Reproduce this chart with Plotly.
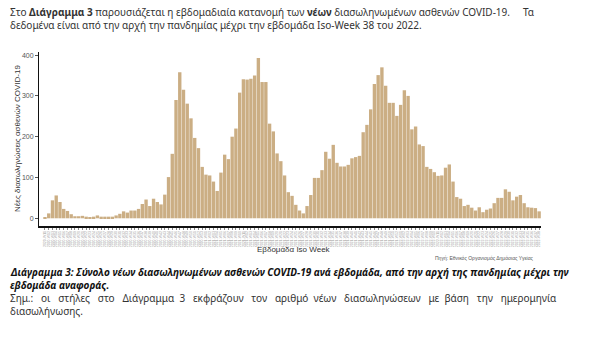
import plotly.graph_objects as go

# ---- data ----
start_year, start_week = 2020, 11
weekly_values = [
    2, 12, 44, 56, 40, 23, 18, 10, 5, 5, 6, 4, 3, 4, 7, 4, 4, 4, 4, 7,
    11, 17, 14, 19, 19, 23, 35, 46, 30, 48, 40, 34, 58, 101, 158, 290, 358, 315, 281, 245,
    197, 172, 126, 107, 105, 90, 67, 112, 156, 145, 200, 220, 308, 341, 340, 342, 350, 393, 334, 334,
    232, 213, 159, 140, 105, 64, 55, 33, 19, 12, 30, 57, 99, 99, 118, 163, 146, 180, 136, 127,
    127, 131, 147, 150, 153, 211, 229, 267, 329, 351, 370, 325, 283, 283, 251, 278, 314, 300, 218, 225,
    181, 177, 126, 121, 113, 104, 105, 124, 132, 90, 52, 48, 30, 33, 26, 19, 27, 15, 21, 24,
    37, 50, 50, 71, 65, 44, 53, 57, 37, 27, 26, 25, 17,
]

week_labels = []
y, w = start_year, start_week
for _ in weekly_values:
    week_labels.append(f"{y}-W{w:02d}")
    w += 1
    if (y == 2020 and w > 53) or (y != 2020 and w > 52):
        y, w = y + 1, 1

y_ticks = [0, 100, 200, 300, 400]

# ---- layout helpers (pixel -> paper) ----
W, H = 600, 352
L, R, T, B = 39, 541, 52, 226


def px(x):
    return (x - L) / (R - L)


def py(yy):
    return (B - yy) / (B - T)


fig = go.Figure(
    go.Bar(
        x=week_labels,
        y=weekly_values,
        marker=dict(color="#CBAE84", line=dict(width=0)),
        hoverinfo="x+y",
    )
)

n = len(weekly_values)
fig.update_layout(
    width=W,
    height=H,
    margin=dict(l=L, r=W - R, t=T, b=H - B),
    paper_bgcolor="white",
    plot_bgcolor="white",
    bargap=0.1,
    showlegend=False,
    font=dict(family="Noto Sans", color="#222"),
    xaxis=dict(
        type="category",
        range=[-1.6, n - 0.5],
        dtick=1,
        showline=True,
        linecolor="#111",
        linewidth=1.5,
        ticks="outside",
        ticklen=2,
        tickcolor="#888",
        tickangle=-90,
        tickfont=dict(size=3.5, color="#999", family="Liberation Sans"),
        showgrid=False,
        zeroline=False,
    ),
    yaxis=dict(
        range=[-18.9, 407.6],
        tickvals=y_ticks,
        showline=True,
        linecolor="#111",
        linewidth=1,
        ticks="outside",
        ticklen=3,
        tickcolor="#555",
        tickfont=dict(size=7, color="#555", family="Liberation Sans"),
        showgrid=False,
        zeroline=False,
    ),
)

S1 = "&nbsp; "
S2 = "&nbsp;&nbsp; "
note_words = ["Σημ.:", "οι", "στήλες", "στο", "Διάγραμμα", "3", "εκφράζουν", "τον",
              "αριθμό", "νέων", "διασωληνώσεων", "με", "βάση", "την", "ημερομηνία"]
note_line = ""
for i, word in enumerate(note_words):
    if i:
        note_line += S1 if i in (5, 9, 12) else S2
    note_line += word

annots = [
    dict(x=px(8), y=py(12), xanchor="left", yanchor="middle",
         text="Στο <b>Διάγραμμα 3</b> παρουσιάζεται η εβδομαδιαία κατανομή των <b>νέων</b> διασωληνωμένων ασθενών COVID-19.&nbsp;&nbsp;&nbsp;&nbsp; Τα",
         font=dict(size=10, color="#333")),
    dict(x=px(8), y=py(25), xanchor="left", yanchor="middle",
         text="δεδομένα είναι από την αρχή την πανδημίας μέχρι την εβδομάδα Iso-Week 38 του 2022.",
         font=dict(size=10, color="#333")),
    dict(x=px(17), y=py(139), xanchor="center", yanchor="middle", textangle=-90,
         text="Νέες διασωληνώσεις ασθενών COVID-19",
         font=dict(size=8, color="#333", family="Liberation Sans")),
    dict(x=px(294), y=py(249), xanchor="center", yanchor="middle",
         text="Εβδομάδα Iso Week",
         font=dict(size=8, color="#333", family="Liberation Sans")),
    dict(x=px(536), y=py(258), xanchor="right", yanchor="middle",
         text="Πηγή: Εθνικός Οργανισμός Δημόσιας Υγείας",
         font=dict(size=5, color="#555", family="Liberation Sans")),
    dict(x=px(8), y=py(272), xanchor="left", yanchor="middle",
         text="<b><i>Διάγραμμα 3: Σύνολο νέων διασωληνωμένων ασθενών COVID-19 ανά εβδομάδα, από την αρχή της πανδημίας μέχρι την</i></b>",
         font=dict(size=10, color="#111")),
    dict(x=px(8), y=py(285), xanchor="left", yanchor="middle",
         text="<b><i>εβδομάδα αναφοράς.</i></b>",
         font=dict(size=10, color="#111")),
    dict(x=px(8), y=py(298), xanchor="left", yanchor="middle",
         text=note_line,
         font=dict(size=10, color="#333")),
    dict(x=px(8), y=py(311), xanchor="left", yanchor="middle",
         text="διασωλήνωσης.",
         font=dict(size=10, color="#333")),
]
for a in annots:
    a.update(xref="paper", yref="paper", showarrow=False)
fig.update_layout(annotations=annots)

fig.write_html("out.html")
